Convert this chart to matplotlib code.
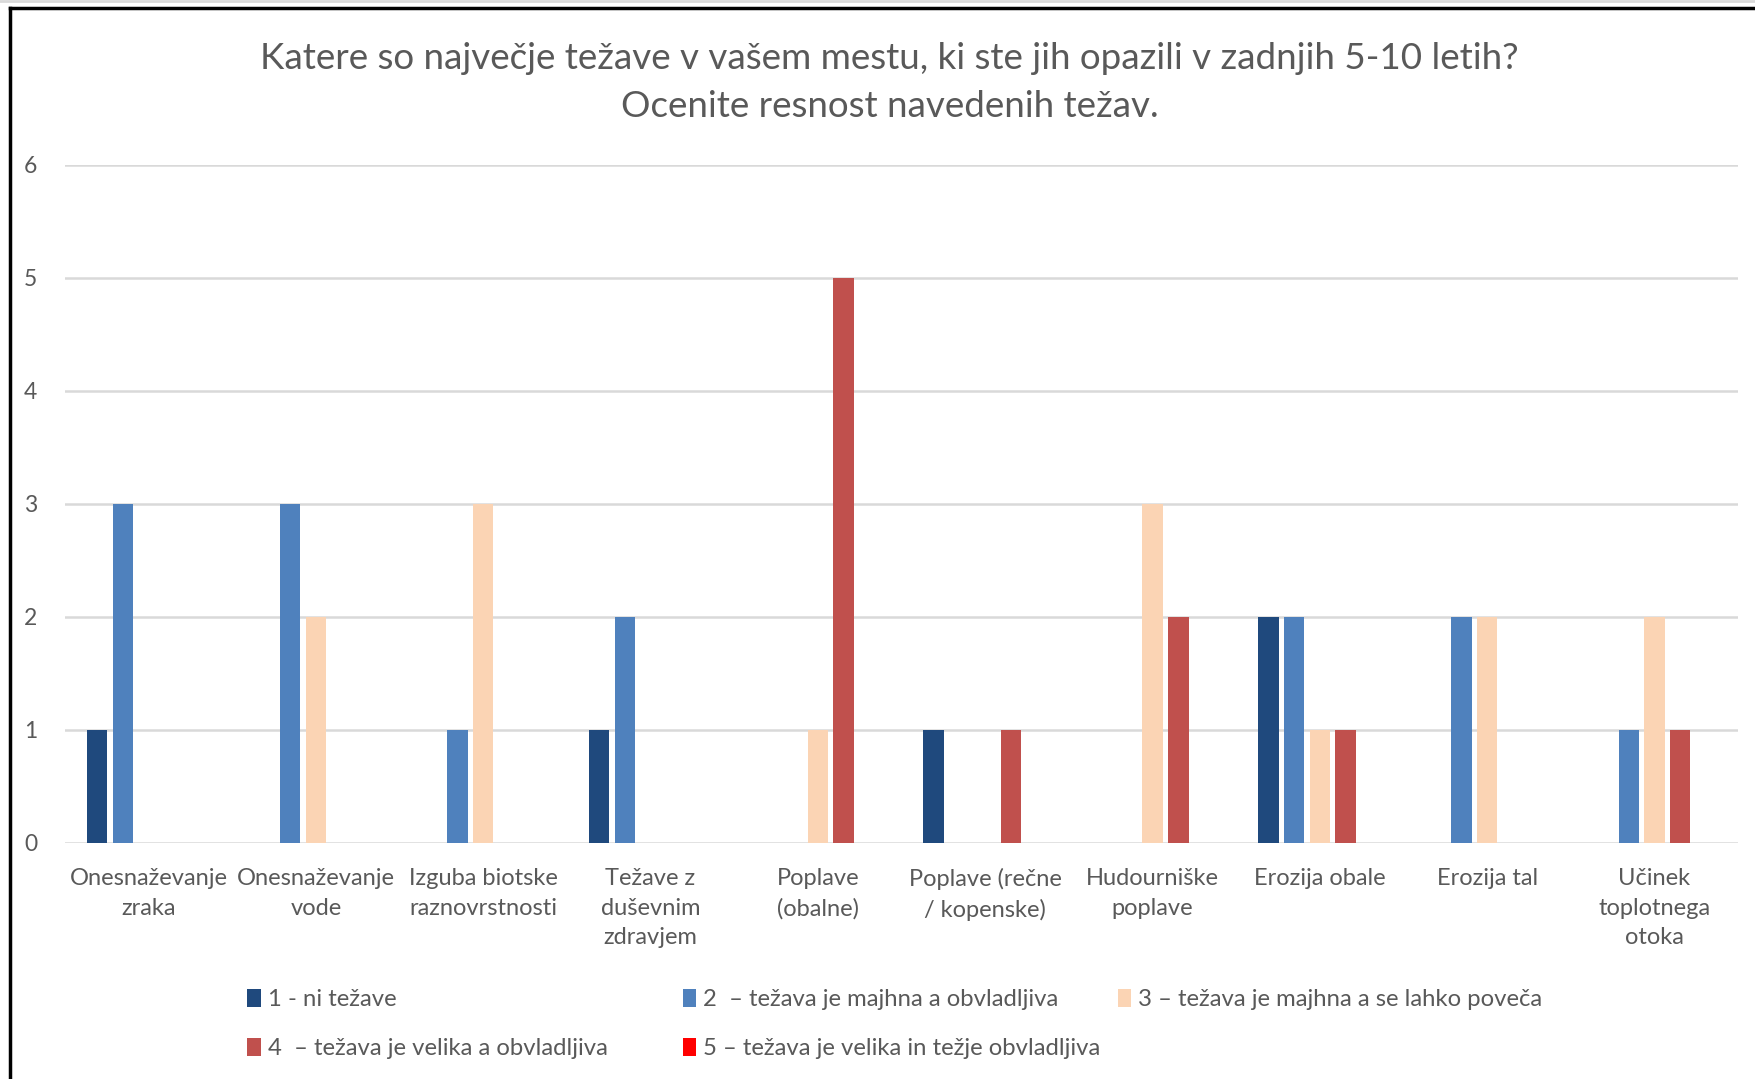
import matplotlib.pyplot as plt
from matplotlib.lines import Line2D
from matplotlib.patches import Patch
import numpy as np

plt.rcParams['font.family'] = ['Lato', 'DejaVu Sans']

categories = ["Onesnaževanje\nzraka", "Onesnaževanje\nvode", "Izguba biotske\nraznovrstnosti",
              "Težave z\nduševnim\nzdravjem", "Poplave\n(obalne)", "Poplave (rečne\n/ kopenske)",
              "Hudourniške\npoplave", "Erozija obale", "Erozija tal", "Učinek\ntoplotnega\notoka"]
series_names = ["1 - ni težave",
                "2  – težava je majhna a obvladljiva",
                "3 – težava je majhna a se lahko poveča",
                "4  – težava je velika a obvladljiva",
                "5 – težava je velika in težje obvladljiva"]
s1 = [1, 0, 0, 1, 0, 1, 0, 2, 0, 0]
s2 = [3, 3, 1, 2, 0, 0, 0, 2, 2, 1]
s3 = [0, 2, 3, 0, 1, 0, 3, 1, 2, 2]
s4 = [0, 0, 0, 0, 5, 1, 2, 1, 0, 1]
s5 = [0, 0, 0, 0, 0, 0, 0, 0, 0, 0]
colors = ["#1F497D", "#4F81BD", "#FBD4B4", "#C0504D", "#FF0000"]

text_col = "#595959"
grid_col = "#D9D9D9"

fig = plt.figure(figsize=(17.55, 10.79), dpi=100)
ax = fig.add_axes([0.037, 0.219, 0.9534, 0.6285])

x = np.arange(len(categories))
pitch = 0.154
width = 0.122
handles = []
for i, vals in enumerate([s1, s2, s3, s4, s5]):
    ax.bar(x + (i - 2) * pitch, vals, width, color=colors[i], zorder=3)
    handles.append(Patch(facecolor=colors[i], edgecolor='none'))

ax.set_xlim(-0.5, len(categories) - 0.5)
ax.set_ylim(0, 6)
ax.set_yticks(range(7))
ax.yaxis.grid(True, color=grid_col, linewidth=1.8, zorder=0)
ax.set_axisbelow(True)
for sp in ax.spines.values():
    sp.set_visible(False)
ax.tick_params(axis='both', length=0, colors=text_col)
ax.tick_params(axis='y', pad=20, labelsize=16.5)
ax.tick_params(axis='x', pad=18, labelsize=17)
ax.set_xticks(x)
ax.set_xticklabels(categories, linespacing=1.52)

fig.text(0.507, 0.946, "Katere so največje težave v vašem mestu, ki ste jih opazili v zadnjih 5-10 letih?",
         ha='center', va='center', fontsize=26.5, color=text_col)
fig.text(0.507, 0.9015, "Ocenite resnost navedenih težav.",
         ha='center', va='center', fontsize=26.5, color=text_col)

# legend, three columns placed like the original
cols = [[0, 3], [1, 4], [2]]
col_x = [0.141, 0.389, 0.637]
for cx, idx in zip(col_x, cols):
    leg = fig.legend([handles[k] for k in idx], [series_names[k] for k in idx],
                     loc='upper left', bbox_to_anchor=(cx, 0.0835), frameon=False,
                     fontsize=17.2, handlelength=0.55, handleheight=0.8, handletextpad=0.3,
                     labelspacing=1.14, borderaxespad=0, borderpad=0)
    for t in leg.get_texts():
        t.set_color(text_col)

# chart border (top and left visible)
fig.add_artist(Line2D([0.0057, 0.0057], [0, 0.9925], color='black', linewidth=2.5, transform=fig.transFigure))
fig.add_artist(Line2D([0.0057, 1], [0.9925, 0.9925], color='black', linewidth=2.5, transform=fig.transFigure))
fig.add_artist(Line2D([0, 1], [0.999, 0.999], color='#D9D9D9', linewidth=2, transform=fig.transFigure))

fig.savefig("out.png", dpi=100)
